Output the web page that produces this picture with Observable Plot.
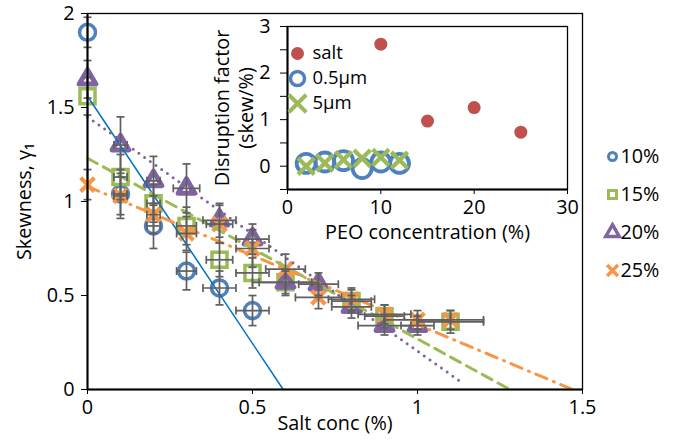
<!DOCTYPE html>
<html><head><meta charset="utf-8">
<script src="https://cdn.jsdelivr.net/npm/d3@7"></script>
<script src="https://cdn.jsdelivr.net/npm/@observablehq/plot@0.6"></script>
<style>
body{margin:0;background:#fff;}
#wrap{position:relative;width:675px;height:443px;}
#wrap > svg{position:absolute;}
</style></head><body><div id="wrap"></div>
<script>
// ---- Main chart data: skewness vs salt concentration (%) ----
const seriesNames = ["10%", "15%", "20%", "25%"];
const salt10 = [0, 0.1, 0.2, 0.3, 0.4, 0.5];
const skew10 = [1.90, 1.04, 0.87, 0.63, 0.54, 0.42];
const xErr10 = [0, 0.02, 0.02, 0.03, 0.05, 0.05];
const yErr10 = [0.08, 0.13, 0.12, 0.10, 0.09, 0.08];

const salt15 = [0, 0.1, 0.2, 0.3, 0.4, 0.5, 0.6, 0.8, 0.9, 1.1];
const skew15 = [1.56, 1.13, 0.99, 0.87, 0.69, 0.62, 0.57, 0.47, 0.39, 0.36];
const xErr15 = [0, 0.02, 0.02, 0.03, 0.04, 0.05, 0.10, 0.06, 0.06, 0.10];
const yErr15 = [0.10, 0.12, 0.10, 0.10, 0.09, 0.08, 0.07, 0.06, 0.06, 0.06];

const salt20 = [0, 0.1, 0.2, 0.3, 0.4, 0.5, 0.6, 0.7, 0.8, 0.9, 1.0];
const skew20 = [1.65, 1.30, 1.11, 1.07, 0.90, 0.80, 0.57, 0.56, 0.44, 0.34, 0.34];
const xErr20 = [0, 0.02, 0.02, 0.04, 0.05, 0.05, 0.08, 0.06, 0.06, 0.08, 0.05];
const yErr20 = [0.10, 0.15, 0.13, 0.13, 0.09, 0.08, 0.06, 0.06, 0.06, 0.05, 0.05];

const salt25 = [0, 0.1, 0.2, 0.3, 0.4, 0.5, 0.6, 0.7, 0.8, 0.9, 1.0, 1.1];
const skew25 = [1.09, 1.03, 0.93, 0.83, 0.88, 0.75, 0.64, 0.49, 0.48, 0.40, 0.37, 0.37];
const xErr25 = [0, 0.02, 0.02, 0.03, 0.04, 0.05, 0.06, 0.07, 0.07, 0.08, 0.10, 0.10];
const yErr25 = [0.08, 0.10, 0.10, 0.09, 0.10, 0.10, 0.08, 0.06, 0.06, 0.05, 0.05, 0.05];

// trendline endpoints [salt, skew]
const trend10 = [[0, 1.56], [0.593, 0]];
const trend15 = [[0, 1.23], [1.28, 0]];
const trend20 = [[0, 1.45], [1.14, 0.03]];
const trend25 = [[0, 1.08], [1.47, 0]];

const mainXTicks = [0, 0.5, 1, 1.5];
const mainYTicks = [0, 0.5, 1, 1.5, 2];

// ---- Inset data: disruption factor vs PEO concentration (%) ----
const insetNames = ["salt", "0.5µm", "5µm"];
const peoSalt = [10, 15, 20, 25];
const dfSalt = [2.62, 0.97, 1.26, 0.73];
const peoSmall = [2, 4, 6, 8, 10, 12];
const dfSmall = [0.06, 0.09, 0.12, -0.05, 0.09, 0.06];
const peoLarge = [2, 4, 6, 8, 10, 12];
const dfLarge = [0.0, 0.07, 0.14, 0.17, 0.19, 0.13];
const insetXTicks = [0, 10, 20, 30];
const insetYTicks = [-0.5, 0, 0.5, 1, 1.5, 2, 2.5, 3];

// ---- styling ----
const FONT = "'Open Sans', Lato, sans-serif";
const FS = 19.8;
const FS_LEG = 18.5;
const C10 = "#4F81BD", C15 = "#9BBB59", C20 = "#8064A2", C25 = "#F79646";
const CSALT = "#C0504D", CTREND10 = "#0070C0", GRAY = "#5f5f5f";

const zip = (xs, ys, exs, eys) => xs.map((x, i) => ({x, y: ys[i], ex: exs ? exs[i] : 0, ey: eys ? eys[i] : 0}));
const s10 = zip(salt10, skew10, xErr10, yErr10);
const s15 = zip(salt15, skew15, xErr15, yErr15);
const s20 = zip(salt20, skew20, xErr20, yErr20);
const s25 = zip(salt25, skew25, xErr25, yErr25);
const all = [...s10, ...s15, ...s20, ...s25];
const allEx = all.filter(d => d.ex > 0);

const capH = {draw(ctx, size) { const w = Math.sqrt(size / Math.PI); ctx.moveTo(-w, 0); ctx.lineTo(w, 0); }};
const capV = {draw(ctx, size) { const w = Math.sqrt(size / Math.PI); ctx.moveTo(0, -w); ctx.lineTo(0, w); }};

const W = 675, H = 443;
const wrap = document.getElementById("wrap");
const baseStyle = {fontFamily: FONT, fontSize: FS + "px", color: "#000", background: "transparent", overflow: "visible"};
const EB = {stroke: GRAY, strokeWidth: 1.7};

const main = Plot.plot({
  width: W, height: H,
  marginLeft: 87, marginRight: 93, marginTop: 13, marginBottom: 54,
  style: baseStyle,
  x: {domain: [0, 1.5]},
  y: {domain: [0, 2]},
  marks: [
    Plot.frame({stroke: "#000", strokeWidth: 1.3}),
    Plot.dot(s10, {x: "x", y: "y", symbol: "circle", r: 8, stroke: C10, strokeWidth: 3.5, fill: "none"}),
    Plot.dot(s15, {x: "x", y: "y", symbol: "square", r: 8.5, stroke: C15, strokeWidth: 3.5, fill: "none"}),
    Plot.dot(s20, {x: "x", y: "y", symbol: "triangle", r: 6.2, stroke: C20, strokeWidth: 5, fill: "none", strokeLinejoin: "round"}),
    Plot.dot(s25, {x: "x", y: "y", symbol: "times", r: 6.3, stroke: C25, strokeWidth: 4.2}),
    Plot.line(trend10, {x: d => d[0], y: d => d[1], stroke: CTREND10, strokeWidth: 1.5}),
    Plot.line(trend15, {x: d => d[0], y: d => d[1], stroke: C15, strokeWidth: 3, strokeDasharray: "11 7"}),
    Plot.line(trend20, {x: d => d[0], y: d => d[1], stroke: C20, strokeWidth: 3, strokeDasharray: "0 7", strokeLinecap: "round"}),
    Plot.line(trend25, {x: d => d[0], y: d => d[1], stroke: C25, strokeWidth: 3, strokeDasharray: "12 7 1 7", strokeLinecap: "round"}),
    Plot.ruleX(all, {x: "x", y1: d => d.y - d.ey, y2: d => d.y + d.ey, ...EB}),
    Plot.dot(all, {x: "x", y: d => d.y + d.ey, symbol: capH, r: 4, ...EB}),
    Plot.dot(all, {x: "x", y: d => d.y - d.ey, symbol: capH, r: 4, ...EB}),
    Plot.ruleY(allEx, {y: "y", x1: d => d.x - d.ex, x2: d => d.x + d.ex, ...EB}),
    Plot.dot(allEx, {x: d => d.x - d.ex, y: "y", symbol: capV, r: 4, ...EB}),
    Plot.dot(allEx, {x: d => d.x + d.ex, y: "y", symbol: capV, r: 4, ...EB}),
    Plot.ruleX([0], {stroke: "#000", strokeWidth: 2}),
    Plot.ruleY([0], {stroke: "#000", strokeWidth: 2}),
    Plot.axisY({ticks: mainYTicks, tickFormat: d => String(d), tickSize: 6, tickPadding: 7, label: null, fontSize: FS}),
    Plot.axisX({ticks: mainXTicks, tickFormat: d => String(d), tickSize: 5, tickPadding: 5, label: null, fontSize: FS}),
    Plot.text(["Salt conc (%)"], {frameAnchor: "bottom", dy: 40, textAnchor: "middle", fontSize: FS}),
    Plot.text(["Skewness, γ₁"], {frameAnchor: "left", dx: -63, rotate: -90, textAnchor: "middle", fontSize: FS})
  ]
});
main.style.left = "0px"; main.style.top = "0px";
wrap.appendChild(main);

const inset = Plot.plot({
  width: W, height: H,
  marginLeft: 287, marginRight: 108, marginTop: 26, marginBottom: 254,
  style: baseStyle,
  x: {domain: [0, 30]},
  y: {domain: [-0.5, 3]},
  marks: [
    Plot.frame({stroke: "#000", strokeWidth: 1.3}),
    Plot.dot(zip(peoSmall, dfSmall), {x: "x", y: "y", symbol: "circle", r: 9.5, stroke: C10, strokeWidth: 3.8, fill: "none"}),
    Plot.dot(zip(peoLarge, dfLarge), {x: "x", y: "y", symbol: "times", r: 7.5, stroke: C15, strokeWidth: 4.2}),
    Plot.dot(zip(peoSalt, dfSalt), {x: "x", y: "y", r: 6.5, fill: CSALT}),
    Plot.ruleX([0], {stroke: "#000", strokeWidth: 2}),
    Plot.ruleY([-0.5], {stroke: "#000", strokeWidth: 2}),
    Plot.axisY({ticks: insetYTicks, tickFormat: d => Number.isInteger(d) ? String(d) : "", tickSize: 7, tickPadding: 10, label: null, fontSize: FS}),
    Plot.axisX({ticks: insetXTicks, tickFormat: d => String(d), tickSize: 5, tickPadding: 5, label: null, fontSize: FS}),
    Plot.text(["PEO concentration (%)"], {frameAnchor: "bottom", dy: 49, textAnchor: "middle", fontSize: FS}),
    Plot.text(["Disruption factor\n(skew/%)"], {frameAnchor: "left", dx: -54, rotate: -90, textAnchor: "middle", lineHeight: 1.2, fontSize: FS})
  ]
});
inset.style.left = "0px"; inset.style.top = "0px";
wrap.appendChild(inset);

// inset legend
const insetLegendItems = [
  {name: insetNames[0], symbol: "circle", color: CSALT, fill: CSALT, r: 6.5, sw: 0},
  {name: insetNames[1], symbol: "circle", color: C10, fill: "none", r: 7, sw: 3.5},
  {name: insetNames[2], symbol: "times", color: C15, fill: "none", r: 8, sw: 4}
];
const insetLegend = Plot.plot({
  width: 110, height: 75, marginTop: 12, marginBottom: 12, marginLeft: 0, marginRight: 0,
  style: {...baseStyle, fontSize: FS_LEG + "px"},
  x: {axis: null},
  y: {domain: insetNames, padding: 0, axis: null},
  marks: insetLegendItems.map(d => Plot.dot([d], {y: "name", frameAnchor: "left", dx: 10, symbol: d.symbol, r: d.r, stroke: d.sw ? d.color : "none", fill: d.fill, strokeWidth: d.sw}))
    .concat([Plot.text(insetLegendItems, {y: "name", text: "name", frameAnchor: "left", dx: 25, textAnchor: "start", fontSize: FS_LEG})])
});
insetLegend.style.left = "287px"; insetLegend.style.top = "40px";
wrap.appendChild(insetLegend);

// main legend
const mainLegendItems = [
  {name: seriesNames[0], symbol: "circle", color: C10, r: 4, sw: 3},
  {name: seriesNames[1], symbol: "square", color: C15, r: 4.5, sw: 3},
  {name: seriesNames[2], symbol: "triangle", color: C20, r: 5, sw: 3.5},
  {name: seriesNames[3], symbol: "times", color: C25, r: 5, sw: 3.5}
];
const mainLegend = Plot.plot({
  width: 75, height: 150, marginTop: 16, marginBottom: 20, marginLeft: 0, marginRight: 0,
  style: baseStyle,
  x: {axis: null},
  y: {domain: seriesNames, padding: 0, axis: null},
  marks: mainLegendItems.map(d => Plot.dot([d], {y: "name", frameAnchor: "left", dx: 12, symbol: d.symbol, r: d.r, stroke: d.color, fill: "none", strokeWidth: d.sw}))
    .concat([Plot.text(mainLegendItems, {y: "name", text: "name", frameAnchor: "left", dx: 20, textAnchor: "start", fontSize: FS})])
});
mainLegend.style.left = "600px"; mainLegend.style.top = "140px";
wrap.appendChild(mainLegend);
</script></body></html>
